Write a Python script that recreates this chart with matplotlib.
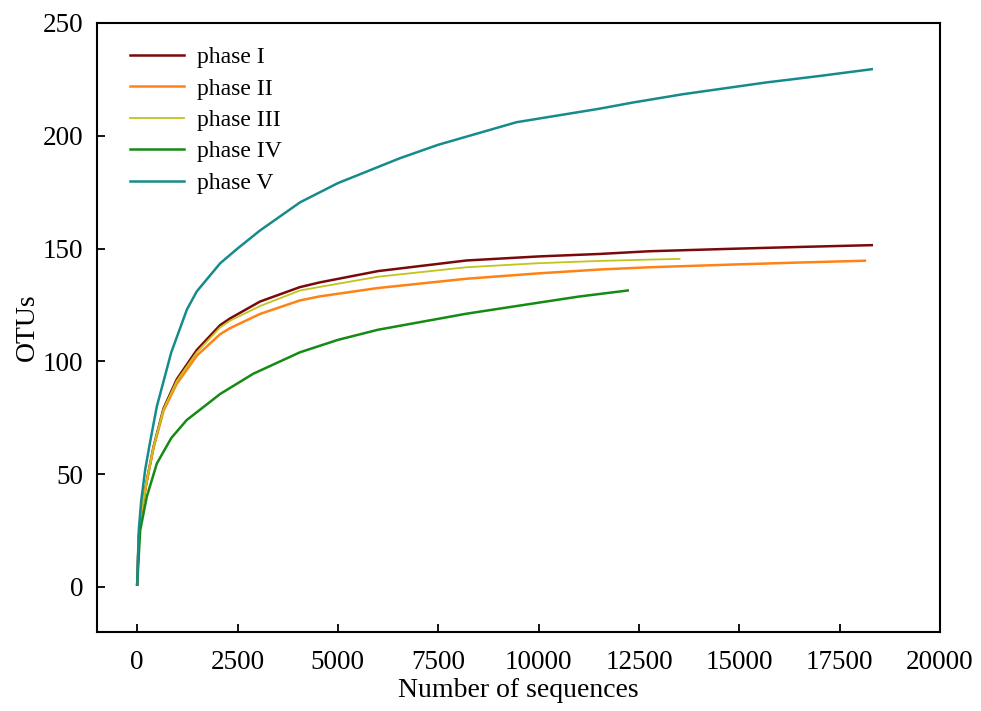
import matplotlib
matplotlib.use("Agg")
from matplotlib import pyplot as plt

# rarefaction curves, values
x_1 = [0, 40, 100, 240, 406, 655, 985, 1485, 2065, 2313, 3060, 4055, 4552, 6000, 8200,
       10000, 11520, 12760, 14830, 16500, 18300]
phase_1 = [1, 22, 33, 47, 62, 79, 92, 105, 116, 119, 126.5, 132.9, 135, 140, 144.7,
           146.5, 147.6, 148.8, 149.9, 150.7, 151.5]

x_2 = [0, 40, 100, 240, 406, 655, 985, 1485, 2065, 2313, 3060, 4055, 4552, 6000, 8200,
       10000, 11520, 12760, 14830, 16500, 18130]
phase_2 = [1, 22, 33, 47, 61.5, 78, 90, 102.5, 112, 114.7, 121, 127, 128.8, 132.5, 136.6,
           139, 140.7, 141.7, 142.9, 143.8, 144.6]

x_3 = [0, 40, 100, 240, 406, 655, 985, 1485, 2065, 2313, 3060, 4055, 4552, 6000, 8200,
       10000, 11500, 12760, 13510]
phase_3 = [1, 22, 33, 47, 62, 78.7, 91.3, 104, 115, 118, 124.5, 131.4, 133, 137.5, 141.7,
           143.5, 144.5, 145.1, 145.4]

x_4 = [0, 75, 240, 490, 850, 1236, 1815, 2065, 2893, 4055, 5000, 6000, 8200, 10000,
       11000, 12220]
phase_4 = [1, 25, 40, 54.7, 66, 74, 82, 85.5, 94.5, 104, 109.5, 114, 121.1, 126,
           128.7, 131.4]

x_5 = [0, 40, 100, 200, 320, 490, 640, 850, 1240, 1485, 2070, 2500, 3060, 4060, 5000,
       6540, 7500, 9450, 11520, 12340, 13590, 15660, 17000, 18300]
phase_5 = [1, 25, 38, 52, 64, 80, 90, 104, 123, 131, 143.5, 150, 158, 170.5, 179,
           190, 196, 206, 212, 214.7, 218.4, 223.6, 226.5, 229.5]

labels = ["phase I", "phase II", "phase III", "phase IV", "phase V"]
colors = ["#7a0a0a", "#ff8214", "#c3c31e", "#158a15", "#178b8b"]
widths = [1.8, 1.8, 1.3, 1.8, 1.8]

plt.rcParams['font.family'] = ['Liberation Serif', 'DejaVu Serif']

fig = plt.figure(figsize=(9.81, 7.11), dpi=100)
ax = fig.add_axes([0.0989, 0.1111, 0.8593, 0.8566])

xs = [x_1, x_2, x_3, x_4, x_5]
ys = [phase_1, phase_2, phase_3, phase_4, phase_5]
for x, y, lab, c, w in zip(xs, ys, labels, colors, widths):
    ax.plot(x, y, color=c, lw=w, label=lab, solid_joinstyle='round')

ax.set_xlim(-1000, 20000)
ax.set_ylim(-20, 250)
ax.set_xticks(range(0, 20001, 2500))
ax.set_yticks(range(0, 251, 50))
ax.tick_params(direction='in', length=6, width=1.3, labelsize=19.5)
ax.tick_params(axis='x', pad=13)
ax.tick_params(axis='y', pad=10)
for s in ax.spines.values():
    s.set_linewidth(1.5)

ax.set_xlabel("Number of sequences", fontsize=20, labelpad=2)
ax.set_ylabel("OTUs", fontsize=20, labelpad=2)

ax.legend(loc='upper left', frameon=False, fontsize=17, handlelength=2.3,
          handletextpad=0.55, labelspacing=0.42, borderaxespad=0.6,
          bbox_to_anchor=(0.0106, 1.0))

plt.savefig('out.png', dpi=100)
